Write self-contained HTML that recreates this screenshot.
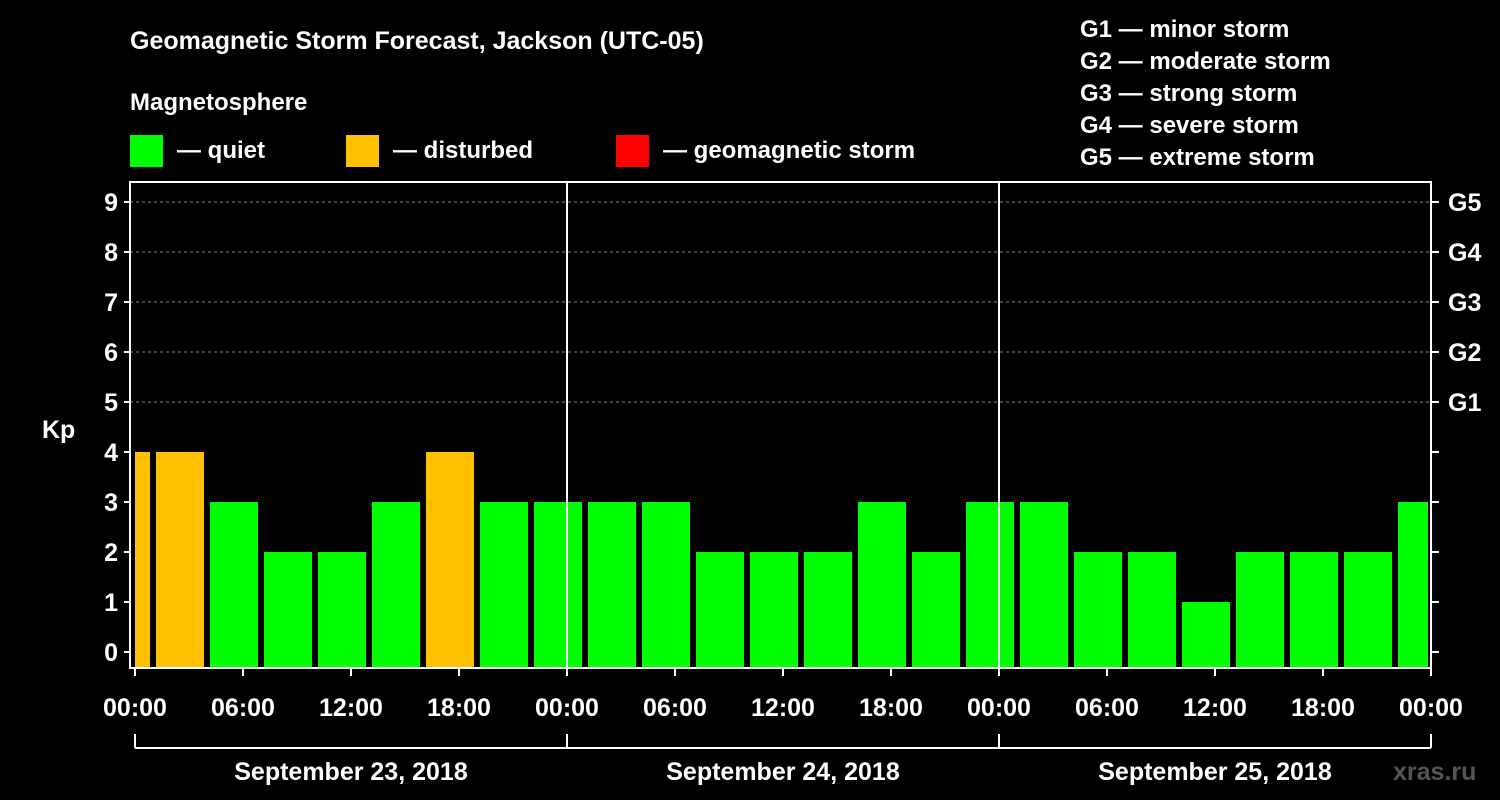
<!DOCTYPE html>
<html><head><meta charset="utf-8"><style>
html,body{margin:0;padding:0;background:#000;}
svg{display:block;font-family:"Liberation Sans",Arial,sans-serif;font-weight:bold;}
</style></head><body>
<svg id="chart" width="1500" height="800" viewBox="0 0 1500 800">
<rect x="0" y="0" width="1500" height="800" fill="#000"/>
<text x="130" y="49" fill="#fff" font-size="25">Geomagnetic Storm Forecast, Jackson (UTC-05)</text>
<text x="130" y="110" fill="#fff" font-size="24">Magnetosphere</text>
<g><rect x="130" y="135" width="33" height="32" fill="#00ff00"/><text x="177" y="158" fill="#fff" font-size="24">— quiet</text></g>
<g><rect x="346" y="135" width="33" height="32" fill="#ffc000"/><text x="393" y="158" fill="#fff" font-size="24">— disturbed</text></g>
<g><rect x="616" y="135" width="33" height="32" fill="#ff0000"/><text x="663" y="158" fill="#fff" font-size="24">— geomagnetic storm</text></g>
<g fill="#fff" font-size="24">
<text x="1080" y="37">G1 — minor storm</text><text x="1080" y="69">G2 — moderate storm</text><text x="1080" y="101">G3 — strong storm</text><text x="1080" y="133">G4 — severe storm</text><text x="1080" y="165">G5 — extreme storm</text>
</g>
<text x="42" y="438" fill="#fff" font-size="25">Kp</text>
<text x="1393" y="780" fill="#555" font-size="25">xras.ru</text>
<g id="grid"></g><g id="bars"></g><g id="axes"></g>
</svg>
<script>
const kpValues=[4,4,3,2,2,3,4,3,3,3,3,2,2,2,3,2,3,3,2,2,1,2,2,2,3];
const yTicks=[0,1,2,3,4,5,6,7,8,9];
const gLabels=["G1","G2","G3","G4","G5"];
const xTickLabels=["00:00","06:00","12:00","18:00","00:00","06:00","12:00","18:00","00:00","06:00","12:00","18:00","00:00"];
const dayLabels=["September 23, 2018","September 24, 2018","September 25, 2018"];
const NS="http://www.w3.org/2000/svg";
const x0=135,pxPerHour=18,plotL=130,plotR=1431,plotT=182,plotB=668;
const yS=v=>652-v*50;
const xS=h=>x0+h*pxPerHour;
function mk(tag,attrs,parent,txt){const e=document.createElementNS(NS,tag);for(const k in attrs)e.setAttribute(k,attrs[k]);if(txt!=null)e.textContent=txt;parent.appendChild(e);return e;}
const grid=document.getElementById('grid'),bars=document.getElementById('bars'),axes=document.getElementById('axes');
for(let v=5;v<=9;v++){const l=mk('line',{x1:plotL,x2:plotR,y1:yS(v),y2:yS(v),stroke:'#888','stroke-dasharray':'3,3','stroke-width':1},grid);

}
kpValues.forEach((v,i)=>{
 let a=xS(-1.833+3*i),b=a+48;a=Math.max(a,x0);b=Math.min(b,plotR-3);
 const r=mk('rect',{x:a,y:yS(v),width:b-a,height:plotB-yS(v),fill:v>=5?'#ff0000':(v>=4?'#ffc000':'#00ff00')},bars);
 
 
});
mk('rect',{x:plotL,y:plotT,width:plotR-plotL,height:plotB-plotT,fill:'none',stroke:'#fff','stroke-width':2},axes);
[24,48].forEach(h=>{const l=mk('line',{x1:xS(h),x2:xS(h),y1:plotT,y2:plotB,stroke:'#fff','stroke-width':2},axes);

});
yTicks.forEach(v=>{
 mk('line',{x1:plotL-6,x2:plotL,y1:yS(v),y2:yS(v),stroke:'#fff','stroke-width':2},axes);
 mk('line',{x1:plotR,x2:plotR+8,y1:yS(v),y2:yS(v),stroke:'#fff','stroke-width':2},axes);
 const t=mk('text',{x:plotL-12,y:yS(v)+9,fill:'#fff','font-size':25,'text-anchor':'end'},axes,String(v));
 
 
});
gLabels.forEach((g,i)=>{const t=mk('text',{x:1448,y:yS(5+i)+9,fill:'#fff','font-size':25},axes,g);

});
xTickLabels.forEach((s,i)=>{const x=xS(i*6);
 mk('line',{x1:x,x2:x,y1:plotB,y2:plotB+8,stroke:'#fff','stroke-width':2},axes);
 const t=mk('text',{x:x,y:716,fill:'#fff','font-size':25,'text-anchor':'middle'},axes,s);
 
 });
mk('line',{x1:xS(0),x2:xS(72),y1:748,y2:748,stroke:'#fff','stroke-width':2},axes);
[0,24,48,72].forEach(h=>mk('line',{x1:xS(h),x2:xS(h),y1:734,y2:748,stroke:'#fff','stroke-width':2},axes));
dayLabels.forEach((d,i)=>{const t=mk('text',{x:xS(i*24+12),y:780,fill:'#fff','font-size':25,'text-anchor':'middle'},axes,d);

});
</script>
</body></html>
